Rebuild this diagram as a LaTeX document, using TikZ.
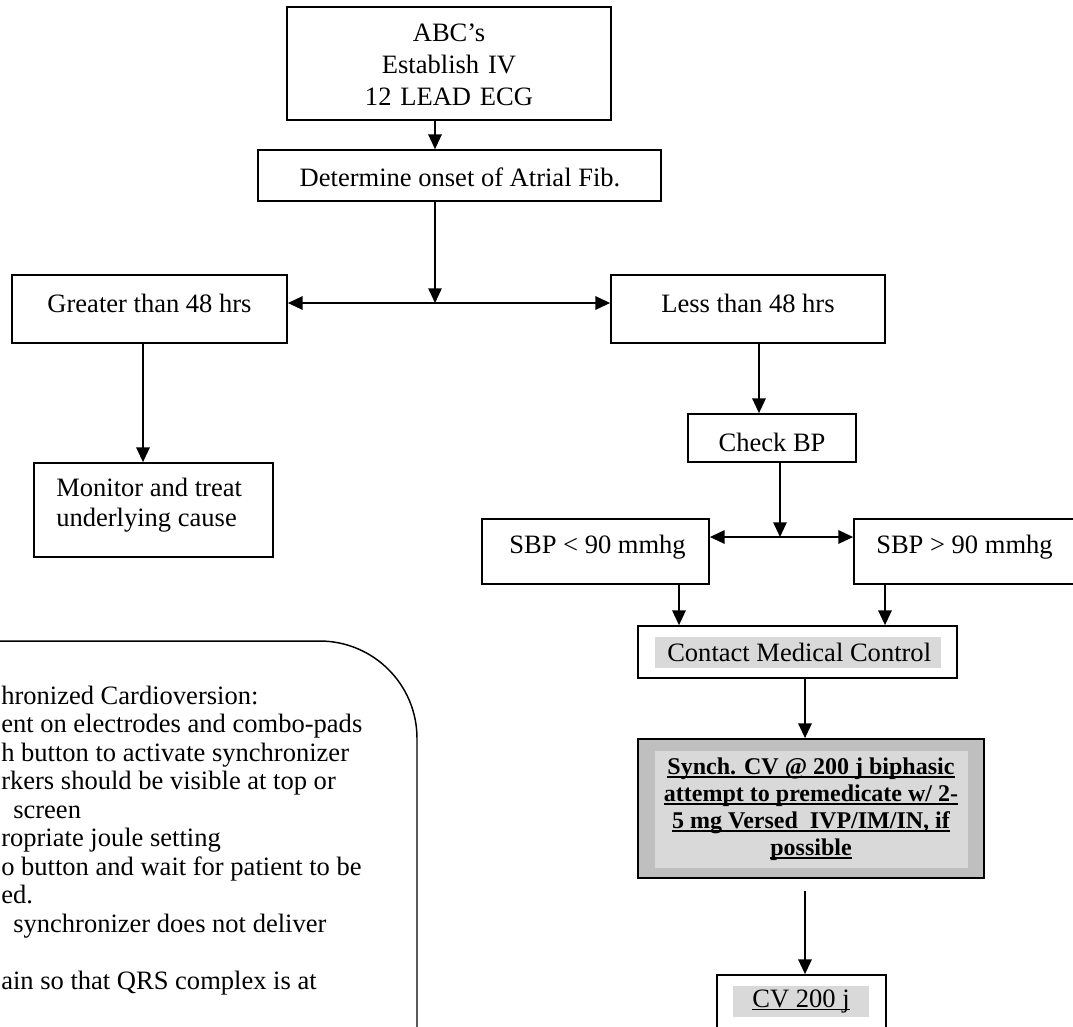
\documentclass[tikz,border=0pt]{standalone}
\usepackage{fontspec}
\setmainfont{Liberation Serif}
\usetikzlibrary{arrows.meta}
% underline drawn as a rule just under the baseline, running through descenders
\newcommand\ulpart[1]{\setbox0=\hbox{#1}\rlap{\vrule height -1.6pt depth 3.1pt width \wd0}\box0}
\newcommand\ulthin[1]{\setbox0=\hbox{#1}\rlap{\vrule height -1.6pt depth 2.6pt width \wd0}\box0}

\begin{document}
\begin{tikzpicture}[x=0.75pt, y=-0.75pt,
  box/.style={draw, line width=1.3pt, inner sep=0pt},
  txt/.style={inner sep=0pt, font=\fontsize{19.9}{24}\selectfont, align=center},
  note/.style={inner sep=0pt, anchor=base west, font=\fontsize{19.9}{24}\selectfont},
  arr/.style={line width=1.3pt, -{Triangle[length=11pt,width=10pt]}},
  hl/.style={fill=black!15, draw=none}
]
\useasboundingbox (0,0) rectangle (1073,1026);
\clip (0,0) rectangle (1073,1026);

% --- boxes of the flow chart
\node[box, minimum width=324*0.75pt, minimum height=113*0.75pt] (abc) at (449,63.5) {};
\node[txt, text width=300*0.75pt] (abc-t) at (449,65) {ABC’s\\Establish IV\\12 LEAD ECG};

\node[box, minimum width=403*0.75pt, minimum height=51*0.75pt] (det) at (459.5,175.5) {};
\node[txt] (det-t) at (460,177) {Determine onset of Atrial Fib.};

\node[box, minimum width=275*0.75pt, minimum height=68*0.75pt] (gt) at (149.5,309) {};
\node[txt] (gt-t) at (149.5,303) {Greater than 48 hrs};

\node[box, minimum width=274*0.75pt, minimum height=68*0.75pt] (lt) at (748,309) {};
\node[txt] (lt-t) at (748,303) {Less than 48 hrs};

\node[box, minimum width=239*0.75pt, minimum height=94*0.75pt] (mon) at (153.5,510) {};
\node[txt, anchor=west, align=left, font=\fontsize{19.9}{22.5}\selectfont] (mon-t) at (56,505) {Monitor and treat\\underlying cause};

\node[box, minimum width=168*0.75pt, minimum height=48*0.75pt] (chk) at (772,438) {};
\node[txt] (chk-t) at (772,442) {Check BP};

\node[box, minimum width=227*0.75pt, minimum height=65*0.75pt] (slt) at (595.5,551.5) {};
\node[txt, anchor=east] (slt-t) at (686,547) {SBP < 90 mmhg};

\node[box, minimum width=236*0.75pt, minimum height=65*0.75pt] (sgt) at (972,551.5) {};
\node[txt, anchor=west] (sgt-t) at (876,547) {SBP > 90 mmhg};

\node[box, minimum width=319*0.75pt, minimum height=52*0.75pt] (cmc) at (797.5,652) {};
\fill[hl] (655,637) rectangle (941,668);
\node[txt, anchor=west] (cmc-t) at (667,652) {Contact Medical Control};

\node[box, fill=black!25, minimum width=346*0.75pt, minimum height=139*0.75pt] (syn) at (811,808.5) {};
\fill[hl] (655,751) rectangle (968,868);
\node[txt, font=\fontsize{18}{20.25}\selectfont\bfseries] (syn-t) at (811,809)
  {\ulpart{Synch. CV @ 200 j biphasic}\\\ulpart{attempt to premedicate w/ 2-}\\\ulpart{5 mg Versed\ \ IVP/IM/IN, if}\\\ulpart{possible}};

\node[box, minimum width=169*0.75pt, minimum height=110*0.75pt] (cv) at (801.5,1030) {};
\fill[hl] (733,986) rectangle (869,1017);
\node[txt] (cv-t) at (801,1001) {\ulthin{CV 200 j}};

% --- branch points and connector columns
\coordinate (j1) at (435,303);
\coordinate (j2) at (780,537);
\coordinate (xa) at (143,0);
\coordinate (xb) at (759,0);
\coordinate (xc) at (679,0);
\coordinate (xd) at (885,0);
\coordinate (xe) at (805,0);
\coordinate (syn-out) at (805,891);

% --- connectors
\draw[arr] (abc.south -| j1) -- (det.north -| j1);
\draw[arr] (det.south -| j1) -- (j1);
\draw[arr] (j1) -- (j1 -| gt.east);
\draw[arr] (j1) -- (j1 -| lt.west);
\draw[arr] (gt.south -| xa) -- (mon.north -| xa);
\draw[arr] (lt.south -| xb) -- (chk.north -| xb);
\draw[arr] (chk.south -| j2) -- (j2);
\draw[arr] (j2) -- (j2 -| slt.east);
\draw[arr] (j2) -- (j2 -| sgt.west);
\draw[arr] (slt.south -| xc) -- (cmc.north -| xc);
\draw[arr] (sgt.south -| xd) -- (cmc.north -| xd);
\draw[arr] (cmc.south -| xe) -- (syn.north -| xe);
\draw[arr] (syn-out) -- (cv.north -| xe);

% --- rounded note panel with the cardioversion steps
\draw[line width=1.1pt, rounded corners=73pt] (-60,641) -- (417,641) -- (417,1100);
\node[note] (l0) at (1,704) {hronized Cardioversion:};
\node[note] (l1) at (1,732.5) {ent on electrodes and combo-pads};
\node[note] (l2) at (1,761) {h button to activate synchronizer};
\node[note] (l3) at (1,789.5) {rkers should be visible at top or};
\node[note] (l4) at (13,818) {screen};
\node[note] (l5) at (1,846.5) {ropriate joule setting};
\node[note] (l6) at (1,875) {o button and wait for patient to be};
\node[note] (l7) at (1,903.5) {ed.};
\node[note] (l8) at (13,932) {synchronizer does not deliver};
\node[note] (l10) at (1,989) {ain so that QRS complex is at};
\end{tikzpicture}
\end{document}
